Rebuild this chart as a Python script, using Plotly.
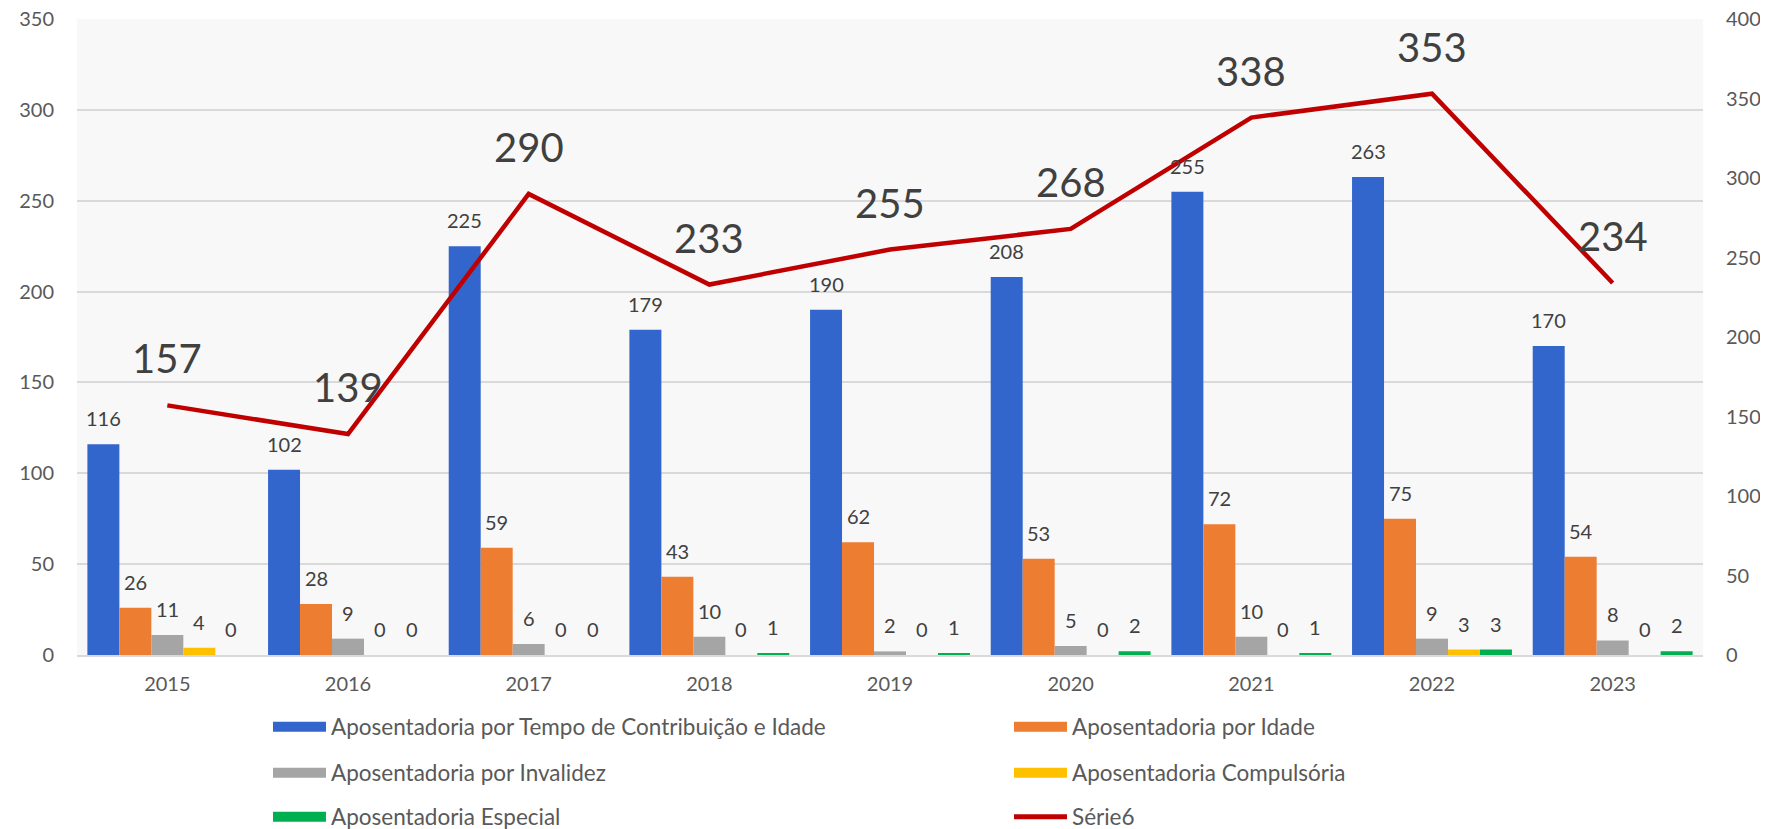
import plotly.graph_objects as go

years = ["2015", "2016", "2017", "2018", "2019", "2020", "2021", "2022", "2023"]
tempo_contrib = [116, 102, 225, 179, 190, 208, 255, 263, 170]
por_idade = [26, 28, 59, 43, 62, 53, 72, 75, 54]
invalidez = [11, 9, 6, 10, 2, 5, 10, 9, 8]
compulsoria = [4, 0, 0, 0, 0, 0, 0, 3, 0]
especial = [0, 0, 0, 1, 1, 2, 1, 3, 2]
serie6 = [157, 139, 290, 233, 255, 268, 338, 353, 234]

series_names = [
    "Aposentadoria por Tempo de Contribuição e Idade",
    "Aposentadoria por Idade",
    "Aposentadoria por Invalidez",
    "Aposentadoria Compulsória",
    "Aposentadoria Especial",
]
series_values = [tempo_contrib, por_idade, invalidez, compulsoria, especial]
colors = ["#3366CC", "#ED7D31", "#A5A5A5", "#FFC000", "#00B050"]
line_color = "#C00000"
line_name = "Série6"

FONT = "Lato, 'Open Sans', sans-serif"
# page body has an 8px margin; figure sized to fill the rest of the window
W, H = 1760, 821
ML, MR, MT, MB = 69, 65, 11, 174
plot_w = W - ML - MR
plot_h = H - MT - MB
cat_w = plot_w / len(years)
bargap = 0.115
bar_w = cat_w * (1 - bargap) / len(series_names)

fig = go.Figure()
for name, vals, col in zip(series_names, series_values, colors):
    fig.add_trace(go.Bar(
        x=years, y=vals, name=name, marker=dict(color=col, line=dict(width=0)),
        showlegend=False,
    ))

fig.add_trace(go.Scatter(
    x=years, y=serie6, name=line_name, mode="lines", yaxis="y2",
    line=dict(color=line_color, width=4.5), showlegend=False,
))

# legend entries: one legend per slot (2 columns x 3 rows), figure pixel coords
col_x = [260, 1001]
row_y = [719, 765, 809]
legend_names = ["legend", "legend2", "legend3", "legend4", "legend5", "legend6"]
entries = list(zip(series_names, colors, [13] * 5)) + [(line_name, line_color, 5)]
legend_layouts = {}
for k, ((name, col, lw), lg) in enumerate(zip(entries, legend_names)):
    fig.add_trace(go.Scatter(
        x=[years[0]], y=[None], mode="lines", name=name,
        line=dict(color=col, width=lw), legend=lg, showlegend=True, hoverinfo="skip",
    ))
    r, c = divmod(k, 2)
    legend_layouts[lg] = dict(
        orientation="v", xanchor="left", yanchor="middle",
        x=(col_x[c] - ML) / plot_w,
        y=-(row_y[r] - (MT + plot_h)) / plot_h,
        font=dict(family=FONT, size=22.5, color="#595959"),
        bgcolor="rgba(0,0,0,0)", itemwidth=53,
    )

annotations = []
for i, vals in enumerate(series_values):
    off = (i - (len(series_values) - 1) / 2) * bar_w
    for j, v in enumerate(vals):
        annotations.append(dict(
            x=j, y=v, xref="x", yref="y", text=str(v), showarrow=False,
            xshift=off, yshift=26, font=dict(family=FONT, size=20, color="#404040"),
        ))
for j, v in enumerate(serie6):
    annotations.append(dict(
        x=j, y=v, xref="x", yref="y2", text=str(v), showarrow=False,
        yshift=47, font=dict(family=FONT, size=40, color="#404040"),
    ))

fig.update_layout(
    width=W, height=H,
    margin=dict(l=ML, r=MR, t=MT, b=MB, autoexpand=False),
    paper_bgcolor="white", plot_bgcolor="#F8F8F8",
    barmode="group", bargap=bargap, bargroupgap=0,
    font=dict(family=FONT, size=20, color="#595959"),
    xaxis=dict(
        type="category", categoryorder="array", categoryarray=years,
        range=[-0.5, len(years) - 0.5], autorange=False,
        showgrid=False, showline=True, linecolor="#D9D9D9", linewidth=2,
        ticks="", tickfont=dict(family=FONT, size=20, color="#595959"),
        ticklabelstandoff=10,
    ),
    yaxis=dict(
        range=[0, 350], dtick=50, tickmode="linear", showgrid=True,
        gridcolor="#D9D9D9", gridwidth=1.5, zeroline=False, showline=False,
        tickfont=dict(family=FONT, size=20, color="#595959"), ticklabelstandoff=22,
        ticklabeloverflow="allow",
    ),
    yaxis2=dict(
        range=[0, 400], dtick=50, tickmode="linear", overlaying="y", side="right",
        showgrid=False, zeroline=False, showline=False,
        tickfont=dict(family=FONT, size=20, color="#595959"), ticklabelstandoff=22,
        ticklabeloverflow="allow",
    ),
    annotations=annotations,
    showlegend=True,
    **legend_layouts,
)

fig.write_html("out.html")
